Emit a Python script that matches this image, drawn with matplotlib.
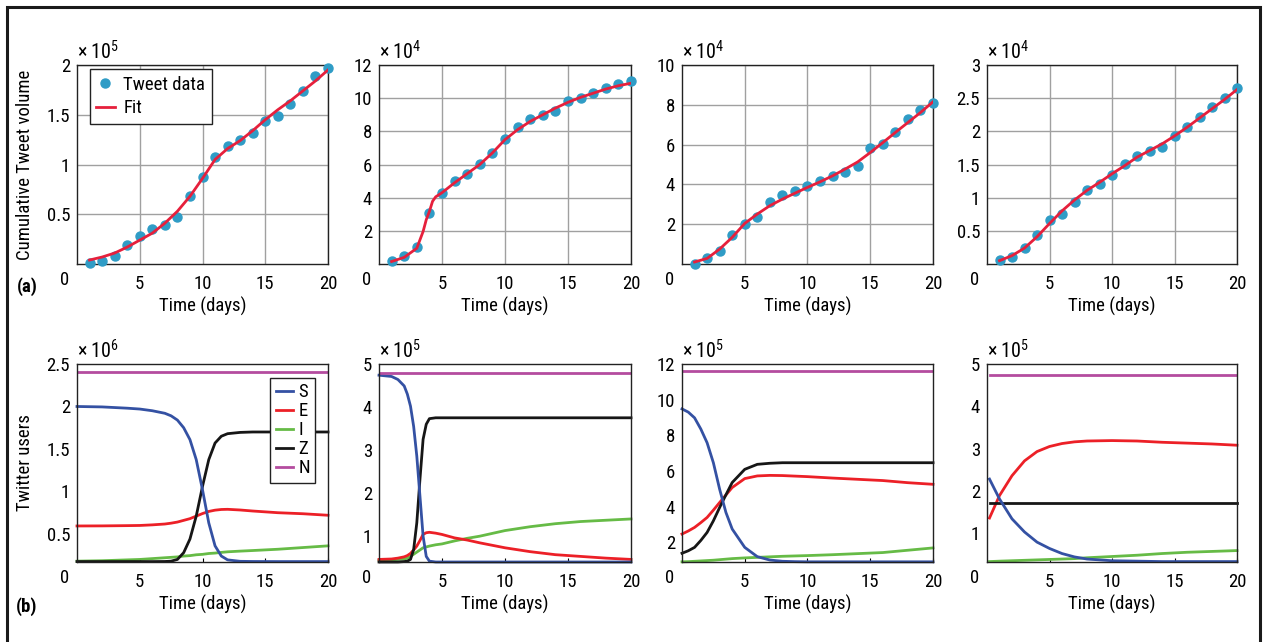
import numpy as np
import matplotlib
matplotlib.use('Agg')
import matplotlib.pyplot as plt
import matplotlib.font_manager as fm
from matplotlib.lines import Line2D
from matplotlib.patches import Rectangle


# pick a narrow sans font if one is installed (the figure uses a condensed face)
def wt(f):
    w = f.weight
    if isinstance(w, str):
        w = {'normal': 400, 'regular': 400, 'book': 400, 'bold': 700}.get(w, 0)
    return w


fams = {}
for f in fm.fontManager.ttflist:
    fams.setdefault(f.name, []).append(f)

font_name, font_stretch, fs = 'Roboto', 'normal', 12
preferred = ['Liberation Sans Narrow', 'Roboto Condensed', 'Open Sans Condensed',
             'Noto Sans Condensed', 'DejaVu Sans Condensed']
found = [n for n in preferred if n in fams]
if not found:
    found = [n for n, fl in fams.items()
             if ('Narrow' in n or 'Condensed' in n)
             and any(wt(x) == 400 for x in fl) and any(wt(x) == 700 for x in fl)]
if not found:
    found = [n for n, fl in fams.items() if 'Narrow' in n or 'Condensed' in n]
if found:
    font_name, fs = found[0], 13.5

plt.rcParams['font.family'] = [font_name, 'DejaVu Sans']
plt.rcParams['mathtext.fontset'] = 'custom'
plt.rcParams['mathtext.rm'] = font_name
plt.rcParams['mathtext.it'] = font_name
plt.rcParams['font.size'] = fs

# ---- (a) cumulative tweet volume: data and fit ----
days = list(range(1, 21))

a1_data = [0.01, 0.03, 0.08, 0.19, 0.28, 0.35, 0.39, 0.47, 0.68, 0.87,
           1.08, 1.19, 1.25, 1.32, 1.44, 1.49, 1.61, 1.74, 1.89, 1.97]
a1_fit_t = days
a1_fit = [0.04, 0.07, 0.11, 0.17, 0.24, 0.31, 0.41, 0.53, 0.68, 0.86,
          1.05, 1.16, 1.24, 1.34, 1.45, 1.55, 1.64, 1.74, 1.84, 1.95]

a2_data = [0.2, 0.5, 1.03, 3.09, 4.26, 4.99, 5.43, 6.06, 6.67, 7.56,
           8.28, 8.75, 8.99, 9.23, 9.82, 10.0, 10.32, 10.63, 10.87, 11.01]
a2_fit_t = [1, 2, 3, 3.5, 3.75, 4, 4.25, 4.5, 5, 6, 7, 8, 9, 10,
            11, 12, 13, 14, 15, 16, 17, 18, 19, 20]
a2_fit = [0.15, 0.4, 0.95, 1.96, 2.67, 3.17, 3.78, 4.05, 4.3, 4.9, 5.45, 6.0, 6.7, 7.5,
          8.1, 8.6, 9.0, 9.4, 9.75, 10.05, 10.3, 10.55, 10.75, 10.9]

a3_data = [0.02, 0.28, 0.64, 1.44, 1.99, 2.36, 3.13, 3.45, 3.66, 3.93,
           4.18, 4.43, 4.64, 4.92, 5.82, 6.04, 6.61, 7.31, 7.75, 8.07]
a3_fit_t = days
a3_fit = [0.1, 0.28, 0.75, 1.34, 2.04, 2.51, 2.93, 3.26, 3.56, 3.85,
          4.13, 4.43, 4.77, 5.13, 5.6, 6.1, 6.61, 7.11, 7.61, 8.15]

a4_data = [0.065, 0.105, 0.236, 0.437, 0.663, 0.759, 0.94, 1.11, 1.21, 1.34,
           1.51, 1.63, 1.70, 1.76, 1.93, 2.06, 2.22, 2.37, 2.50, 2.65]
a4_fit_t = days
a4_fit = [0.05, 0.126, 0.24, 0.41, 0.61, 0.80, 0.965, 1.11, 1.23, 1.36,
          1.48, 1.61, 1.71, 1.81, 1.93, 2.06, 2.2, 2.34, 2.48, 2.63]

a_exp = [5, 4, 4, 4]
a_ylim = [2, 12, 10, 3]
a_yticks = [[0.5, 1, 1.5, 2], [2, 4, 6, 8, 10, 12], [2, 4, 6, 8, 10],
            [0.5, 1, 1.5, 2, 2.5, 3]]

# ---- (b) model compartments S, E, I, Z, N ----
b1_t = [0, 2, 4, 5, 6, 7, 7.5, 8, 8.5, 9, 9.5, 10, 10.5, 11, 11.5, 12, 13, 14, 16, 18, 20]
b1_S = [2.0, 1.995, 1.98, 1.97, 1.95, 1.92, 1.89, 1.84, 1.75, 1.61, 1.375, 1.02, 0.63,
        0.36, 0.24, 0.195, 0.178, 0.176, 0.175, 0.175, 0.175]
b1_E = [0.594, 0.595, 0.598, 0.60, 0.607, 0.617, 0.627, 0.64, 0.66, 0.68, 0.71, 0.74,
        0.765, 0.78, 0.788, 0.79, 0.782, 0.77, 0.75, 0.738, 0.72]
b1_I = [0.18, 0.185, 0.195, 0.20, 0.21, 0.22, 0.225, 0.23, 0.24, 0.245, 0.255, 0.26,
        0.27, 0.275, 0.283, 0.29, 0.298, 0.305, 0.32, 0.34, 0.36]
b1_Z = [0.175, 0.175, 0.175, 0.175, 0.175, 0.176, 0.18, 0.2, 0.28, 0.44, 0.71, 1.06,
        1.375, 1.57, 1.65, 1.68, 1.695, 1.70, 1.70, 1.70, 1.70]
b1_N = 2.41

b2_t = [0, 1, 1.5, 2, 2.25, 2.5, 2.75, 3, 3.25, 3.5, 3.75, 4, 4.5, 5, 6, 7, 8,
        10, 12, 14, 16, 18, 20]
b2_S = [4.74, 4.71, 4.64, 4.49, 4.3, 4.02, 3.55, 2.86, 1.93, 1.0, 0.53, 0.42, 0.40,
        0.40, 0.40, 0.40, 0.40, 0.40, 0.40, 0.40, 0.40, 0.40, 0.40]
b2_E = [0.46, 0.47, 0.49, 0.52, 0.55, 0.60, 0.68, 0.77, 0.9, 1.04, 1.08, 1.09, 1.07,
        1.04, 0.96, 0.91, 0.845, 0.73, 0.64, 0.57, 0.53, 0.49, 0.46]
b2_I = [0.44, 0.45, 0.46, 0.47, 0.49, 0.53, 0.58, 0.63, 0.68, 0.73, 0.75, 0.77, 0.80,
        0.82, 0.89, 0.95, 1.0, 1.13, 1.22, 1.29, 1.34, 1.37, 1.40]
b2_Z = [0.40, 0.40, 0.40, 0.41, 0.42, 0.46, 0.69, 1.31, 2.32, 3.25, 3.6, 3.73, 3.75,
        3.75, 3.75, 3.75, 3.75, 3.75, 3.75, 3.75, 3.75, 3.75, 3.75]
b2_N = 4.80

b3_t = [0, 0.5, 1, 1.5, 2, 2.5, 3, 3.5, 4, 5, 6, 7, 8, 9, 10, 12, 14, 16, 18, 20]
b3_S = [9.48, 9.3, 8.98, 8.35, 7.58, 6.46, 4.97, 3.67, 2.74, 1.71, 1.19, 1.0, 0.93,
        0.91, 0.9, 0.9, 0.9, 0.9, 0.9, 0.9]
b3_E = [2.46, 2.63, 2.83, 3.1, 3.39, 3.8, 4.23, 4.65, 5.07, 5.57, 5.72, 5.75, 5.74,
        5.71, 5.68, 5.6, 5.53, 5.46, 5.34, 5.25]
b3_I = [0.9, 0.91, 0.93, 0.95, 0.97, 0.99, 1.02, 1.05, 1.08, 1.12, 1.15, 1.18, 1.21,
        1.23, 1.25, 1.30, 1.36, 1.42, 1.55, 1.68]
b3_Z = [1.38, 1.52, 1.71, 2.1, 2.55, 3.2, 3.95, 4.66, 5.35, 6.09, 6.37, 6.43, 6.46,
        6.46, 6.46, 6.46, 6.46, 6.46, 6.46, 6.46]
b3_N = 11.62

b4_t = [0.2, 1, 2, 3, 4, 5, 6, 7, 8, 10, 12, 14, 16, 18, 20]
b4_S = [2.28, 1.81, 1.34, 1.03, 0.79, 0.64, 0.52, 0.44, 0.39, 0.35, 0.34, 0.33, 0.33,
        0.33, 0.33]
b4_E = [1.36, 1.89, 2.36, 2.71, 2.93, 3.05, 3.12, 3.16, 3.18, 3.19, 3.18, 3.15, 3.13,
        3.11, 3.08]
b4_I = [0.33, 0.34, 0.35, 0.36, 0.37, 0.38, 0.39, 0.40, 0.42, 0.45, 0.48, 0.52, 0.55,
        0.57, 0.59]
b4_Z = [1.72] * len(b4_t)
b4_N = 4.74

b_exp = [6, 5, 5, 5]
b_ylim = [(0.17, 2.5), (0.40, 5), (0.89, 12), (0.32, 5)]
b_yticks = [[0.5, 1, 1.5, 2, 2.5], [1, 2, 3, 4, 5], [2, 4, 6, 8, 10, 12],
            [1, 2, 3, 4, 5]]

col = {'S': '#3451a3', 'E': '#ec2027', 'I': '#66bb46', 'Z': '#161616', 'N': '#b44c9f'}
dot_col = '#2f9cc6'
fit_col = '#e6203c'

W, H = 1263, 642
fig = plt.figure(figsize=(W / 100, H / 100), dpi=100)

lefts = [77, 379, 682, 987]
widths = [251, 252, 251, 250]


def make_ax(i, top, bottom):
    return fig.add_axes([lefts[i] / W, 1 - bottom / H, widths[i] / W, (bottom - top) / H])


def style(ax, exp, yticks, grid):
    ax.set_xlim(0, 20)
    ax.set_xticks([5, 10, 15, 20])
    ax.set_yticks(yticks)
    ax.set_yticklabels([f'{v:g}' for v in yticks])
    for s in ax.spines.values():
        s.set_linewidth(1.0)
        s.set_color('#222222')
    if grid:
        ax.grid(True, color='#a0a0a0', linewidth=1.0)
        ax.tick_params(length=0)
    else:
        ax.tick_params(axis='x', direction='in', length=3, width=0.8, top=False)
        ax.tick_params(axis='y', length=0)
    ax.tick_params(axis='x', pad=8, labelsize=fs)
    ax.tick_params(axis='y', pad=5, labelsize=fs)
    ax.set_xlabel('Time (days)', fontsize=fs)
    ax.xaxis.set_label_coords(0.5, -0.165)
    ax.xaxis.label.set_va('top')
    # shared corner zero and exponent
    ax.text(-0.048, -0.035, '0', transform=ax.transAxes, ha='center', va='top', fontsize=fs)
    ax.text(0.0, 1.01, r'$\times\;10^{%d}$' % exp, transform=ax.transAxes,
            ha='left', va='bottom', fontsize=fs + 1)
    ax.set_axisbelow(True)


# top row
a_data = [a1_data, a2_data, a3_data, a4_data]
a_fit_t = [a1_fit_t, a2_fit_t, a3_fit_t, a4_fit_t]
a_fit = [a1_fit, a2_fit, a3_fit, a4_fit]
for i in range(4):
    ax = make_ax(i, 65, 264)
    ax.plot(days, a_data[i], 'o', color=dot_col, markersize=6.5, label='Tweet data',
            clip_on=False, zorder=3)
    ax.plot(a_fit_t[i], a_fit[i], '-', color=fit_col, linewidth=2, label='Fit', zorder=4)
    ax.set_ylim(0, a_ylim[i])
    style(ax, a_exp[i], a_yticks[i], True)
    if i == 0:
        ax.set_ylabel('Cumulative Tweet volume', fontsize=fs)
        ax.yaxis.set_label_coords(-0.17, 0.5)
        leg = ax.legend(loc='upper left', bbox_to_anchor=(0.05, 0.98), fontsize=fs,
                        frameon=True, fancybox=False, borderpad=0.35, handlelength=1.0,
                        handletextpad=0.45, labelspacing=0.3, borderaxespad=0)
        leg.get_frame().set_edgecolor('#222222')
        leg.get_frame().set_linewidth(1.0)
        leg.get_frame().set_alpha(1)

# bottom row
b_t = [b1_t, b2_t, b3_t, b4_t]
b_series = [
    {'S': b1_S, 'E': b1_E, 'I': b1_I, 'Z': b1_Z},
    {'S': b2_S, 'E': b2_E, 'I': b2_I, 'Z': b2_Z},
    {'S': b3_S, 'E': b3_E, 'I': b3_I, 'Z': b3_Z},
    {'S': b4_S, 'E': b4_E, 'I': b4_I, 'Z': b4_Z},
]
b_N = [b1_N, b2_N, b3_N, b4_N]
for i in range(4):
    ax = make_ax(i, 364, 562)
    t = b_t[i]
    for k in ['I', 'E', 'Z', 'S']:
        ax.plot(t, b_series[i][k], color=col[k], linewidth=2, clip_on=False, label=k)
    ax.plot([t[0], t[-1]], [b_N[i], b_N[i]], color=col['N'], linewidth=2, label='N')
    ax.set_ylim(*b_ylim[i])
    style(ax, b_exp[i], b_yticks[i], False)
    if i == 0:
        ax.set_ylabel('Twitter users', fontsize=fs)
        ax.yaxis.set_label_coords(-0.17, 0.5)
        handles = [Line2D([], [], color=col[k], linewidth=2) for k in 'SEIZN']
        leg = ax.legend(handles, list('SEIZN'), loc='upper right',
                        bbox_to_anchor=(0.95, 0.93), fontsize=fs, frameon=True,
                        fancybox=False, borderpad=0.3, handlelength=0.9,
                        handletextpad=0.3, labelspacing=0.05, borderaxespad=0)
        leg.get_frame().set_edgecolor('#222222')
        leg.get_frame().set_linewidth(1.0)
        leg.get_frame().set_alpha(1)

# panel letters
fig.text(27 / W, 1 - 287 / H, '(a)', fontsize=fs, fontweight='bold', ha='center', va='center')
fig.text(27 / W, 1 - 607 / H, '(b)', fontsize=fs, fontweight='bold', ha='center', va='center')

# outer frame
fig.patches.append(Rectangle((7 / W, -0.02), (1260 - 7) / W, 1 - 7 / H + 0.02,
                             transform=fig.transFigure, fill=False, edgecolor='#1a1a1a',
                             linewidth=2.2))

fig.savefig('out.png', dpi=100)
